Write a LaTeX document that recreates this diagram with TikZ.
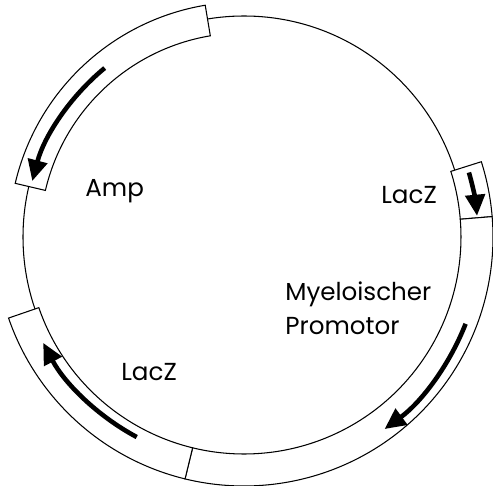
\documentclass[tikz,border=0pt]{standalone}
\usepackage{fontspec}
\setmainfont{Poppins}
\usetikzlibrary{arrows.meta}

\begin{document}
\begin{tikzpicture}[
    x=0.02cm, y=0.02cm,
    % Estilos
    linea/.style={line width=0.6pt},
    banda/.style={draw, line width=0.6pt, fill=white},
    flecha/.style={-{Triangle[length=12pt, width=11pt]}, line width=2.6pt},
    lbl/.style={font=\fontsize{14}{17}\selectfont, inner sep=0pt, anchor=base west}
]
\useasboundingbox (-244,-249) rectangle (249,237);

% --- PLASMIDO ---
\coordinate (c) at (0,0);
\draw[linea] (c) circle[radius=221];

% --- SEGMENTOS ---
\draw[banda] (99.5:204) arc[start angle=99.5, end angle=166.8, radius=204]
    -- (166.8:235) arc[start angle=166.8, end angle=99.5, radius=235] -- cycle;
\draw[banda] (4.7:217) arc[start angle=4.7, end angle=17.6, radius=217]
    -- (17.6:249) arc[start angle=17.6, end angle=4.7, radius=249] -- cycle;
\draw[banda] (-103.7:217) arc[start angle=-103.7, end angle=4.7, radius=217]
    -- (4.7:249) arc[start angle=4.7, end angle=-103.7, radius=249] -- cycle;
\draw[banda] (199:217) arc[start angle=199, end angle=256.3, radius=217]
    -- (256.3:249) arc[start angle=256.3, end angle=199, radius=249] -- cycle;

% --- FLECHAS ---
\draw[flecha] (129.5:219) arc[start angle=129.5, end angle=165.2, radius=219];
\draw[flecha] (16:234) arc[start angle=16, end angle=5.2, radius=234];
\draw[flecha] (-21.4:238) arc[start angle=-21.4, end angle=-53.8, radius=238];
\draw[flecha] (241.8:227) arc[start angle=241.8, end angle=207.8, radius=227];

% --- ETIQUETADO ---
\node[lbl] (amp)   at (-159,40)  {Amp};
\node[lbl] (lacz1) at (137,33)   {LacZ};
\node[lbl] (myelo) at (41,-64)   {Myeloischer};
\node[lbl] (promo) at (41,-97)   {Promotor};
\node[lbl] (lacz2) at (-123,-143) {LacZ};

\end{tikzpicture}
\end{document}
